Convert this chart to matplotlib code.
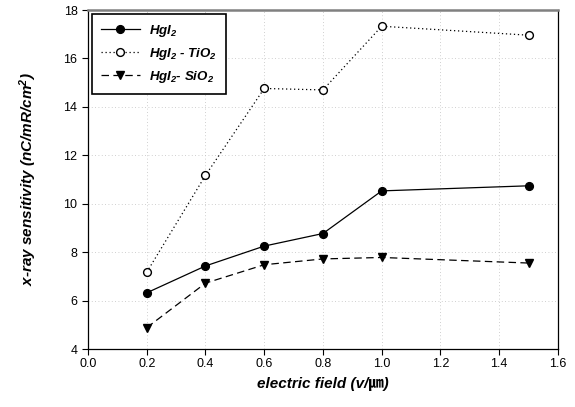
import matplotlib
matplotlib.use("Agg")
import matplotlib.pyplot as plt

plt.rcParams['font.family'] = ['Liberation Sans', 'Noto Sans CJK JP', 'DejaVu Sans']
plt.rcParams['mathtext.fontset'] = 'custom'
plt.rcParams['mathtext.rm'] = 'Liberation Sans:italic:bold'
plt.rcParams['mathtext.it'] = 'Liberation Sans:italic:bold'
plt.rcParams['mathtext.default'] = 'regular'

field = [0.2, 0.4, 0.6, 0.8, 1.0, 1.5]
hgi2 = [6.32, 7.43, 8.25, 8.77, 10.53, 10.74]
hgi2_tio2 = [7.17, 11.17, 14.76, 14.70, 17.33, 16.96]
hgi2_sio2 = [4.88, 6.72, 7.48, 7.72, 7.78, 7.55]

x_ticks = [0.0, 0.2, 0.4, 0.6, 0.8, 1.0, 1.2, 1.4, 1.6]
y_ticks = [4, 6, 8, 10, 12, 14, 16, 18]

fig = plt.figure(figsize=(5.75, 4.07), dpi=100)
ax = fig.add_axes([0.153, 0.1425, 0.8174, 0.8329])

ms = 5.6
ax.plot(field, hgi2, color='black', linestyle='-', linewidth=0.9,
        marker='o', markersize=ms, markerfacecolor='black', label='HgI$_2$')
ax.plot(field, hgi2_tio2, color='black', linestyle=(0, (1, 2.2)), linewidth=0.9,
        marker='o', markersize=ms, markerfacecolor='white', label='HgI$_2$ - TiO$_2$')
ax.plot(field, hgi2_sio2, color='black', linestyle=(0, (6, 3.5)), linewidth=0.9,
        marker='v', markersize=ms, markerfacecolor='black', label='HgI$_2$- SiO$_2$')

ax.set_xlim(0, 1.6)
ax.set_ylim(4, 18)
ax.set_xticks(x_ticks)
ax.set_xticklabels([f"{v:.1f}" for v in x_ticks])
ax.set_yticks(y_ticks)
ax.tick_params(direction='out', length=4, width=0.8, labelsize=9)
ax.tick_params(axis='x', pad=2.5)
ax.grid(True, linestyle=(0, (1, 3)), color='#c0c0c0', linewidth=0.6)
ax.set_axisbelow(True)

ax.spines['top'].set_color('#808080')
ax.spines['top'].set_linewidth(1.8)
for s in ['left', 'right', 'bottom']:
    ax.spines[s].set_linewidth(0.9)

ax.set_xlabel('electric field (v/㎛)', fontsize=11, fontweight='bold', fontstyle='italic', labelpad=5)
ax.set_ylabel('x-ray sensitivity (nC/mR/cm$^2$)', fontsize=11, fontweight='bold', fontstyle='italic', labelpad=18)

leg = ax.legend(loc='upper left', frameon=True, fancybox=False, framealpha=1.0,
                edgecolor='black', handlelength=3.0, handletextpad=0.7,
                borderaxespad=0.3, borderpad=0.65, labelspacing=0.55,
                prop={'weight': 'bold', 'style': 'italic', 'size': 9.5})
leg.get_frame().set_linewidth(1.2)

fig.savefig('out.png', dpi=100)
